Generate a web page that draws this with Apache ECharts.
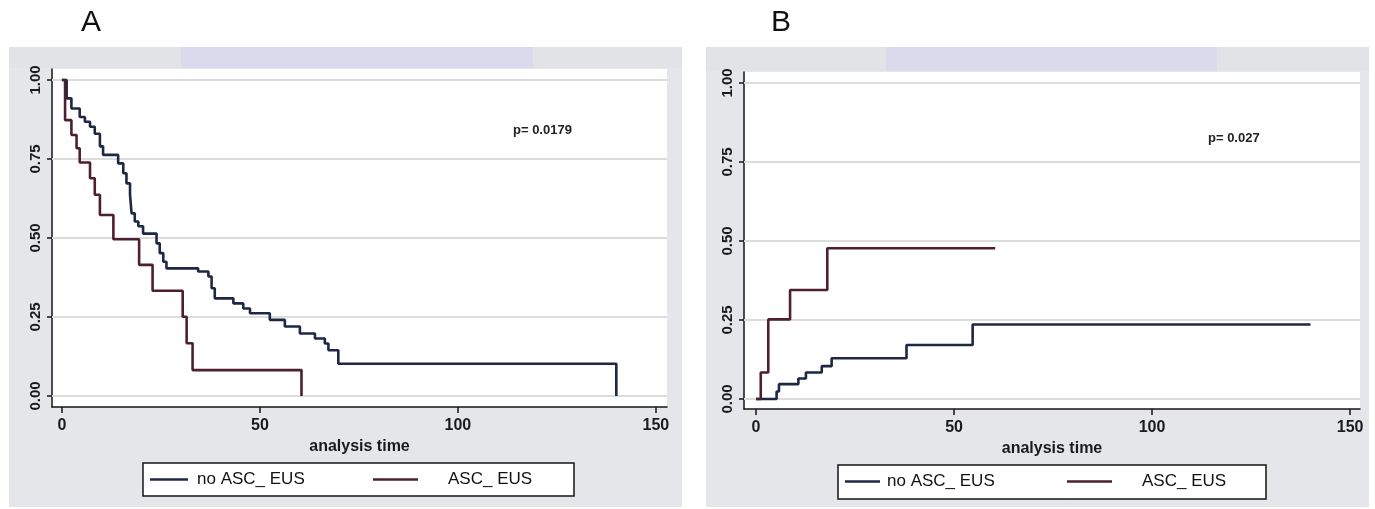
<!DOCTYPE html>
<html><head><meta charset="utf-8">
<script src="https://cdn.jsdelivr.net/npm/echarts@6/dist/echarts.min.js"></script>
<style>html,body{margin:0;padding:0;background:#fff}#c{width:1375px;height:509px}</style>
</head><body><div id="c"></div>
<script>
// ---- data ----
const seriesNames = ['no ASC_ EUS', 'ASC_ EUS'];
const panelLabels = ['A', 'B'];
const pValues = ['p= 0.0179', 'p= 0.027'];
const xAxisTitle = 'analysis time';
const xTicks = [0, 50, 100, 150];
const yTicks = [0, 0.25, 0.5, 0.75, 1];

// Panel A: survival (Kaplan-Meier), steps after each time
const tA_no  = [0,1.2,2.4,4.5,5.8,7.1,8.3,9.6,10.4,14.2,15.5,16.3,17.2,17.6,18.4,19.3,20.5,23.9,24.7,25.6,26.4,34.4,37.0,37.8,38.6,43.3,45.8,47.5,52.5,56.3,60.1,63.9,66.4,67.3,69.8,140,140];
const sA_no  = [1,0.942,0.91,0.883,0.868,0.852,0.83,0.79,0.763,0.736,0.705,0.673,0.637,0.578,0.552,0.537,0.514,0.483,0.452,0.425,0.404,0.394,0.378,0.341,0.309,0.293,0.277,0.262,0.241,0.22,0.198,0.182,0.166,0.145,0.102,0.102,0];
const tA_asc = [0,0.8,2.4,3.7,4.5,7.1,8.3,9.6,13.0,19.5,22.9,30.5,31.5,33.0,60.5,60.5];
const sA_asc = [1,0.873,0.826,0.784,0.739,0.689,0.637,0.573,0.496,0.415,0.333,0.251,0.167,0.082,0.082,0];

// Panel B: cumulative incidence
const tB_no  = [0,5.2,5.8,10.7,12.6,16.6,19.1,38.0,54.7,140];
const sB_no  = [0,0.024,0.047,0.065,0.084,0.104,0.129,0.171,0.236,0.236];
const tB_asc = [0,1.2,3.1,8.6,18.0,60.4];
const sB_asc = [0,0.084,0.252,0.345,0.477,0.477];

// ---- chart ----
const FONT = 'Liberation Sans';
const NAVY = '#1e2744';
const MAROON = '#4e1f31';
const pairs = (t, s) => t.map((v, i) => [v, s[i]]);

function xAxis(gi, min, max) {
  return {
    type: 'value', gridIndex: gi, min: min, max: max,
    axisLine: {show: true, onZero: false, lineStyle: {color: '#151515', width: 1.5}},
    axisTick: {show: true, inside: false, length: 6, customValues: xTicks, lineStyle: {color: '#151515', width: 1.5}},
    axisLabel: {customValues: xTicks, margin: 11, fontSize: 16, fontWeight: 'bold', color: '#1a1a1a', fontFamily: FONT},
    splitLine: {show: false},
    name: xAxisTitle, nameLocation: 'middle', nameGap: 29,
    nameTextStyle: {fontSize: 16, fontWeight: 'bold', color: '#1a1a1a', fontFamily: FONT}
  };
}
function yAxis(gi, min, max) {
  return {
    type: 'value', gridIndex: gi, min: min, max: max,
    axisLine: {show: true, onZero: false, lineStyle: {color: '#151515', width: 1.5}},
    axisTick: {show: true, inside: false, length: 5, customValues: yTicks, lineStyle: {color: '#151515', width: 1.5}},
    axisLabel: {customValues: yTicks, rotate: 90, margin: 9, fontSize: 15, fontWeight: 'bold', color: '#1a1a1a', fontFamily: FONT,
      formatter: v => v.toFixed(2)},
    splitLine: {show: false}
  };
}
function curve(name, t, s, color, gi) {
  return {
    name: name, type: 'line', step: 'end', xAxisIndex: gi, yAxisIndex: gi,
    data: pairs(t, s), symbol: 'none', showSymbol: false, z: 10,
    lineStyle: {color: color, width: 2.6}, itemStyle: {color: color}
  };
}
function gridLines(gi) {
  return {
    type: 'line', xAxisIndex: gi, yAxisIndex: gi, data: [], silent: true, z: 1,
    markLine: {silent: true, z: 1, symbol: ['none', 'none'], label: {show: false},
      lineStyle: {color: '#dcdcdc', width: 2, type: 'solid'},
      data: yTicks.map(v => ({yAxis: v}))}
  };
}
const legTxt = {fontSize: 17, color: '#111', fontFamily: FONT};
function legend(name, left, top, w, pad) {
  return {data: [name], left: left, top: top, padding: 0, itemWidth: w, itemHeight: 2.5, icon: 'rect',
    selectedMode: false, textStyle: Object.assign({padding: [0, 0, 0, pad]}, legTxt)};
}

const option = {
  animation: false,
  backgroundColor: '#ffffff',
  grid: [
    {left: 52, top: 69, width: 615, height: 338, show: true, backgroundColor: '#ffffff', borderWidth: 0},
    {left: 744, top: 72, width: 616, height: 337, show: true, backgroundColor: '#ffffff', borderWidth: 0}
  ],
  xAxis: [xAxis(0, -2.5, 152.8), xAxis(1, -3.03, 152.5)],
  yAxis: [yAxis(0, -0.0348, 1.0348), yAxis(1, -0.0316, 1.0348)],
  legend: [
    legend(seriesNames[0], 150, 471, 38, 4),
    legend(seriesNames[1], 373, 471, 45, 25),
    legend(seriesNames[0], 845, 473, 35, 2),
    legend(seriesNames[1], 1067, 473, 45, 25)
  ],
  graphic: [
    {type: 'rect', z: -5, shape: {x: 9, y: 47, width: 673, height: 460}, style: {fill: '#e4e6ea'}},
    {type: 'rect', z: -4, shape: {x: 9, y: 47, width: 673, height: 21}, style: {fill: '#e1e3e7'}},
    {type: 'rect', z: -3, shape: {x: 181, y: 47, width: 352, height: 21}, style: {fill: '#d9daeb'}},
    {type: 'rect', z: -5, shape: {x: 706, y: 47, width: 663, height: 460}, style: {fill: '#e4e6ea'}},
    {type: 'rect', z: -4, shape: {x: 706, y: 47, width: 663, height: 24}, style: {fill: '#e1e3e7'}},
    {type: 'rect', z: -3, shape: {x: 886, y: 47, width: 331, height: 24}, style: {fill: '#d9daeb'}},
    {type: 'rect', z: 1, shape: {x: 143, y: 463, width: 431, height: 33}, style: {fill: '#ffffff', stroke: '#151515', lineWidth: 1.5}},
    {type: 'rect', z: 1, shape: {x: 838, y: 465, width: 428, height: 34}, style: {fill: '#ffffff', stroke: '#151515', lineWidth: 1.5}},
    {type: 'text', z: 5, x: 81, y: 8, style: {text: panelLabels[0], font: '30px "Liberation Sans"', fill: '#111'}},
    {type: 'text', z: 5, x: 771, y: 8, style: {text: panelLabels[1], font: '30px "Liberation Sans"', fill: '#111'}},
    {type: 'text', z: 5, x: 513, y: 124, style: {text: pValues[0], font: 'bold 13px "Liberation Sans"', fill: '#222'}},
    {type: 'text', z: 5, x: 1208, y: 132, style: {text: pValues[1], font: 'bold 13px "Liberation Sans"', fill: '#222'}}
  ],
  series: [
    gridLines(0), gridLines(1),
    curve(seriesNames[0], tA_no, sA_no, NAVY, 0),
    curve(seriesNames[1], tA_asc, sA_asc, MAROON, 0),
    curve(seriesNames[0], tB_no, sB_no, NAVY, 1),
    curve(seriesNames[1], tB_asc, sB_asc, MAROON, 1)
  ]
};
const chart = echarts.init(document.getElementById('c'), null, {renderer: 'canvas'});
chart.setOption(option);
</script>
</body></html>
